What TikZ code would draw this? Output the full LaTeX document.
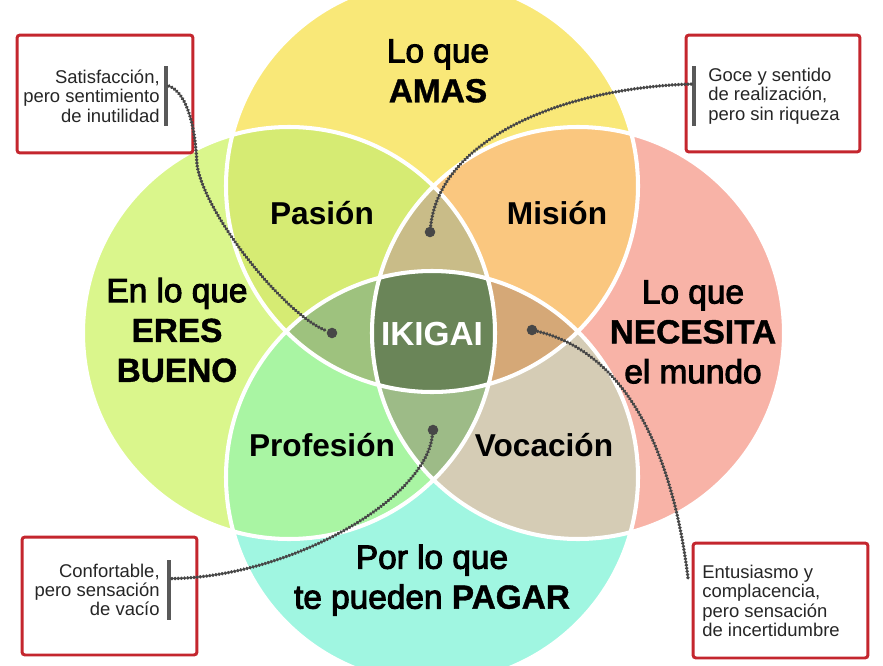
\documentclass[tikz,border=0pt]{standalone}
\usepackage{fontspec}
\setmainfont{Liberation Sans}
\newfontfamily\medfont{Liberation Sans}[FakeBold=3]
\newfontfamily\heavyfont{Liberation Sans}[BoldFeatures={FakeBold=1.2}]
\usepackage{tikz}
\usetikzlibrary{positioning}
% colours of the circles and of their overlaps
\definecolor{amas}{HTML}{F9E878}
\definecolor{bueno}{HTML}{DAF68C}
\definecolor{mundo}{HTML}{F8B3A7}
\definecolor{pagar}{HTML}{A0F6E1}
\definecolor{pasion}{HTML}{D6EB73}
\definecolor{mision}{HTML}{FAC77F}
\definecolor{profesion}{HTML}{A9F5A3}
\definecolor{vocacion}{HTML}{D5CCB5}
\definecolor{lensT}{HTML}{C9BC88}
\definecolor{lensB}{HTML}{9DBB87}
\definecolor{lensL}{HTML}{9EC27E}
\definecolor{lensR}{HTML}{D5A877}
\definecolor{ikigai}{HTML}{6A8558}
\definecolor{notered}{HTML}{C4262E}
\definecolor{dotgray}{HTML}{474747}
\tikzset{
	% texts inside the circles
	circle text/.style={font=\fontsize{19}{22.7}\selectfont,align=center,text=black},
	region text/.style={font=\fontsize{18}{20}\selectfont\bfseries,text=black},
	% callouts: red box, text, grey bar, dotted link and its dot
	note box/.style={draw=notered,line width=1.7pt,rounded corners=1.7pt,fill=white},
	note text/.style={font=\fontsize{10.5}{11}\selectfont,inner sep=0pt,text=black!85},
	note bar/.style={fill=black!65,minimum width=2.3pt,minimum height=34pt,inner sep=0pt},
	note link/.style={draw=dotgray,line width=2pt,line cap=round,dash pattern=on 0.2pt off 1.6pt},
	pin dot/.style={circle,fill=dotgray,minimum size=6pt,inner sep=0pt},
	ring/.style={draw=white,line width=2.3pt}
}
\begin{document}
\begin{tikzpicture}[x=0.02cm,y=-0.02cm]
	% the four circles
	\newcommand{\amas}{(432,186) circle (206)}
	\newcommand{\bueno}{(289,333) circle (206)}
	\newcommand{\mundo}{(578,333) circle (206)}
	\newcommand{\pagar}{(432,477) circle (206)}
	\useasboundingbox (0,0) rectangle (883,666);
	\clip (0,0) rectangle (883,666);
	
	\fill[amas] \amas;
	\fill[bueno] \bueno;
	\fill[mundo] \mundo;
	\fill[pagar] \pagar;
	% two circles
	\begin{scope}
		\clip \amas;
		\fill[pasion] \bueno;
		\fill[mision] \mundo;
	\end{scope}
	\begin{scope}
		\clip \pagar;
		\fill[profesion] \bueno;
		\fill[vocacion] \mundo;
	\end{scope}
	% three circles
	\begin{scope}
		\clip \bueno; \clip \mundo;
		\fill[lensT] \amas;
		\fill[lensB] \pagar;
	\end{scope}
	\begin{scope}
		\clip \amas; \clip \pagar;
		\fill[lensL] \bueno;
		\fill[lensR] \mundo;
	\end{scope}
	% all four
	\begin{scope}
		\clip \amas; \clip \pagar; \clip \bueno;
		\fill[ikigai] \mundo;
	\end{scope}
	\draw[ring] \amas \bueno \mundo \pagar;
	
	\node[circle text] (amas-lbl) at (438,71) {{\medfont Lo que}\\{\heavyfont\bfseries AMAS}};
	\node[circle text] (bueno-lbl) at (177,330) {{\medfont En lo que}\\{\heavyfont\bfseries ERES}\\{\heavyfont\bfseries BUENO}};
	\node[circle text] (mundo-lbl) at (693,332) {{\medfont Lo que}\\{\heavyfont\bfseries NECESITA}\\{\medfont el mundo}};
	\node[circle text] (pagar-lbl) at (432,580) {{\medfont Por lo que}\\{\medfont te pueden} {\heavyfont\bfseries PAGAR}};
	
	\node[region text] (pasion) at (322,213) {Pasión};
	\node[region text] (mision) at (557,213) {Misión};
	\node[region text] (profesion) at (322,445) {Profesión};
	\node[region text] (vocacion) at (544,445) {Vocación};
	\node[region text,text=white,font=\fontsize{19}{20}\selectfont\bfseries] (ikigai) at (432,334) {IKIGAI};
	
	% callouts
	\node[note box,minimum width=3.52cm,minimum height=2.36cm] (box-1) at (105,94) {};
	\node[note text,align=right,anchor=east] (note-1) at (160,96) {Satisfacción,\\pero sentimiento\\de inutilidad};
	\node[note bar,right=2.3pt of note-1] (bar-1) {};
	
	\node[note box,minimum width=3.48cm,minimum height=2.34cm] (box-2) at (773,93.5) {};
	\node[note text,align=left,anchor=west] (note-2) at (708,96) {Goce y sentido\\de realización,\\pero sin riqueza};
	\node[note bar,left=6.8pt of note-2] (bar-2) {};
	
	\node[note box,minimum width=3.5cm,minimum height=2.36cm] (box-3) at (109.5,596) {};
	\node[note text,align=right,anchor=east] (note-3) at (160,590) {Confortable,\\pero sensación\hspace*{2.9pt}\\de vacío};
	\node[note bar,right=4pt of note-3] (bar-3) {};
	
	\node[note box,minimum width=3.5cm,minimum height=2.3cm] (box-4) at (780.5,600.5) {};
	\node[note text,align=left,anchor=west] (note-4) at (702,601) {Entusiasmo y\\complacencia,\\pero sensación\\de incertidumbre};
	
	\node[pin dot] (dot-1) at (332,333) {};
	\node[pin dot] (dot-2) at (430,232) {};
	\node[pin dot] (dot-3) at (433,430) {};
	\node[pin dot] (dot-4) at (532,330) {};
	\coordinate (end-4) at (688,578);
	
	\draw[note link] ([yshift=5.7pt]bar-1.east) .. controls (185,92) and (195,120) .. (197,165)
		.. controls (205,215) and (285,315) .. (dot-1);
	\draw[note link] ([yshift=6.8pt]bar-2.west) .. controls (560,88) and (440,140) .. (dot-2);
	\draw[note link] ([yshift=6.5pt]bar-3.east) .. controls (290,577) and (425,500) .. (dot-3);
	\draw[note link] (dot-4) .. controls (635,355) and (675,470) .. (end-4);
\end{tikzpicture}
\end{document}
